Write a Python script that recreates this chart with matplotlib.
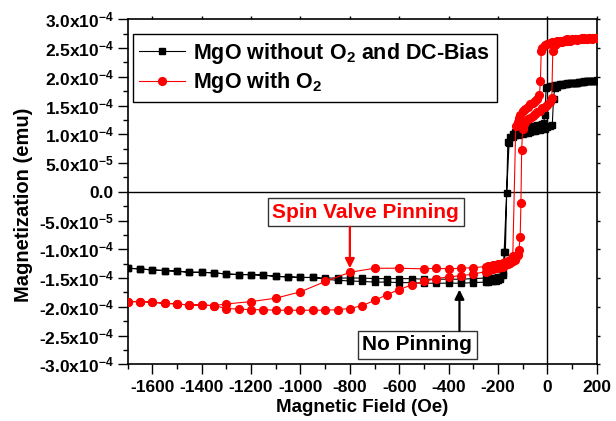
import numpy as np
import matplotlib
matplotlib.use("Agg")
import matplotlib.pyplot as plt
from matplotlib.ticker import MultipleLocator, FixedLocator, FixedFormatter

plt.rcParams['font.family'] = ['Liberation Sans', 'DejaVu Sans']
plt.rcParams['font.weight'] = 'bold'
plt.rcParams['mathtext.fontset'] = 'custom'
plt.rcParams['mathtext.rm'] = 'Liberation Sans:bold'
plt.rcParams['mathtext.it'] = 'Liberation Sans:bold'
plt.rcParams['mathtext.bf'] = 'Liberation Sans:bold'
plt.rcParams['axes.unicode_minus'] = False

# magnetization values in units of 1e-4 emu

# shared far-field part (-1700 .. -950)
black_far_h = [-1700, -1650, -1600, -1550, -1500, -1450, -1400, -1350, -1300,
               -1250, -1200, -1150, -1100, -1050, -1000, -950]
black_far_m = [-1.33, -1.34, -1.36, -1.37, -1.38, -1.40, -1.40, -1.41, -1.43,
               -1.44, -1.44, -1.45, -1.47, -1.48, -1.49, -1.49]

# black: descending branch (+200 -> -900)
black_down_h = [200, 190, 180, 170, 160, 150, 140, 130, 120, 110, 100, 90, 80, 70,
                60, 50, 40, 30, 20, 10, 0, -5, -10, -15, -20, -30, -40, -50, -60,
                -70, -80, -90, -100, -110, -120, -130, -140, -150, -160, -170,
                -180, -190, -200, -210, -220, -230, -240, -250, -300, -350, -400,
                -450, -500, -550, -600, -650, -700, -750, -800, -850, -900]
black_down_m = [1.94, 1.93, 1.93, 1.92, 1.92, 1.92, 1.91, 1.91, 1.90, 1.90, 1.90,
                1.89, 1.89, 1.88, 1.87, 1.87, 1.86, 1.85, 1.84, 1.84, 1.83, 1.81,
                1.34, 1.20, 1.18, 1.17, 1.16, 1.15, 1.14, 1.13, 1.12, 1.11, 1.10,
                1.08, 1.06, 1.04, 1.00, 0.96, 0.87, -1.04, -1.42, -1.48, -1.49,
                -1.50, -1.50, -1.50, -1.50, -1.50, -1.51, -1.52, -1.52, -1.52,
                -1.52, -1.51, -1.51, -1.51, -1.51, -1.50, -1.50, -1.50, -1.50]

# black: ascending branch (-900 -> +200)
black_up_h = [-900, -850, -800, -750, -700, -650, -600, -550, -500, -450, -400,
              -350, -300, -250, -240, -230, -220, -210, -200, -190, -180, -175,
              -165, -155, -140, -130, -120, -110, -100, -90, -80, -70, -60, -50,
              -40, -30, -20, -10, 0, 10, 20, 25, 30, 40, 50, 60, 70, 80, 90, 100,
              110, 120, 130, 140, 150, 160, 170, 180, 190, 200]
black_up_m = [-1.52, -1.54, -1.55, -1.56, -1.57, -1.57, -1.58, -1.58, -1.59,
              -1.59, -1.59, -1.59, -1.58, -1.57, -1.57, -1.56, -1.56, -1.55,
              -1.54, -1.52, -1.45, -1.05, -0.02, 0.84, 0.96, 0.98, 0.99, 1.00,
              1.01, 1.02, 1.03, 1.04, 1.05, 1.06, 1.07, 1.08, 1.09, 1.10, 1.12,
              1.14, 1.17, 1.62, 1.80, 1.83, 1.85, 1.86, 1.87, 1.88, 1.89, 1.89,
              1.90, 1.90, 1.91, 1.91, 1.91, 1.92, 1.92, 1.92, 1.93, 1.93]

# red: shared far-field part
red_far_h = [-1350, -1400, -1450, -1500, -1550, -1600, -1650, -1700]
red_far_m = [-1.98, -1.97, -1.97, -1.95, -1.94, -1.92, -1.91, -1.91]

# red: descending branch (+200 -> -1300)
red_down_h = [200, 190, 180, 170, 160, 150, 140, 130, 120, 110, 100, 90, 80, 70,
              60, 50, 40, 30, 20, 10, 0, -10, -20, -25, -28, -32, -40, -50, -60,
              -70, -80, -90, -100, -110, -115, -120, -128, -140, -150, -160, -170,
              -180, -190, -200, -210, -220, -230, -240, -250, -300, -350, -400,
              -450, -500, -600, -700, -800, -900, -1000, -1100, -1200, -1300]
red_down_m = [2.68, 2.68, 2.67, 2.68, 2.66, 2.67, 2.67, 2.66, 2.66, 2.65, 2.66,
              2.64, 2.65, 2.64, 2.63, 2.63, 2.62, 2.61, 2.60, 2.59, 2.57, 2.55,
              2.50, 2.44, 1.93, 1.68, 1.62, 1.58, 1.55, 1.52, 1.48, 1.44, 1.40,
              1.34, 1.28, 1.22, 1.15, -1.12, -1.18, -1.20, -1.22, -1.23, -1.25,
              -1.26, -1.27, -1.28, -1.29, -1.29, -1.30, -1.32, -1.33, -1.34,
              -1.33, -1.34, -1.33, -1.33, -1.40, -1.56, -1.74, -1.85, -1.91, -1.95]

# red: ascending branch (-1300 -> +200)
red_up_h = [-1300, -1250, -1200, -1150, -1100, -1050, -1000, -950, -900, -850,
            -800, -750, -700, -650, -600, -550, -500, -450, -400, -350, -300,
            -250, -240, -230, -220, -210, -200, -190, -180, -170, -160, -150,
            -140, -130, -125, -120, -115, -110, -107, -104, -100, -95, -90, -80,
            -70, -60, -50, -40, -30, -20, -10, 0, 10, 18, 22, 30, 40, 50, 60, 70,
            80, 90, 100, 110, 120, 130, 140, 150, 160, 170, 180, 190, 200]
red_up_m = [-2.03, -2.04, -2.05, -2.05, -2.06, -2.06, -2.06, -2.06, -2.06, -2.05,
            -2.03, -1.98, -1.89, -1.79, -1.70, -1.62, -1.56, -1.51, -1.48, -1.46,
            -1.43, -1.39, -1.37, -1.35, -1.34, -1.33, -1.32, -1.31, -1.30, -1.28,
            -1.26, -1.24, -1.21, -1.18, -1.14, -1.10, -1.01, -0.78, -0.19, 0.73,
            1.10, 1.18, 1.22, 1.26, 1.29, 1.32, 1.35, 1.38, 1.41, 1.45, 1.48,
            1.51, 1.56, 1.63, 2.44, 2.56, 2.58, 2.60, 2.61, 2.62, 2.63, 2.63,
            2.64, 2.65, 2.64, 2.65, 2.66, 2.65, 2.66, 2.67, 2.66, 2.67, 2.68]

ytick_values = [-3.0, -2.5, -2.0, -1.5, -1.0, -0.5, 0.0, 0.5, 1.0, 1.5, 2.0, 2.5, 3.0]
ytick_labels = ['-3.0x$10^{-4}$', '-2.5x$10^{-4}$', '-2.0x$10^{-4}$', '-1.5x$10^{-4}$',
                '-1.0x$10^{-4}$', '-5.0x$10^{-5}$', '0.0', '5.0x$10^{-5}$',
                '1.0x$10^{-4}$', '1.5x$10^{-4}$', '2.0x$10^{-4}$', '2.5x$10^{-4}$',
                '3.0x$10^{-4}$']

# full loops: down branch then far field then up branch
black_h = np.array(black_down_h + black_far_h[::-1] + black_far_h + black_up_h)
black_m = np.array(black_down_m + black_far_m[::-1] + black_far_m + black_up_m) * 1e-4
red_h = np.array(red_down_h + red_far_h + red_far_h[::-1] + red_up_h)
red_m = np.array(red_down_m + red_far_m + red_far_m[::-1] + red_up_m) * 1e-4

fig = plt.figure(figsize=(6.16, 4.21), dpi=100)
ax = fig.add_axes([0.2073, 0.1347, 0.7614, 0.8195])

ax.axhline(0, color='black', lw=1.0, zorder=1)
ax.axvline(0, color='black', lw=1.0, zorder=1)

ax.plot(black_h, black_m, color='black', lw=0.8, marker='s', ms=5,
        label='MgO without O$_2$ and DC-Bias', zorder=3)
ax.plot(red_h, red_m, color='red', lw=0.8, marker='o', ms=5.6,
        label='MgO with O$_2$', zorder=4)

ax.set_xlim(-1700, 200)
ax.set_ylim(-3e-4, 3e-4)

ax.xaxis.set_major_locator(MultipleLocator(200))
ax.xaxis.set_minor_locator(MultipleLocator(100))
ax.yaxis.set_major_locator(FixedLocator([v * 1e-4 for v in ytick_values]))
ax.yaxis.set_major_formatter(FixedFormatter(ytick_labels))
ax.yaxis.set_minor_locator(MultipleLocator(2.5e-5))

ax.tick_params(which='major', direction='out', length=7, width=1.0, labelsize=12.5, top=True, right=True)
ax.tick_params(axis='x', which='major', pad=4)
ax.tick_params(axis='y', which='major', pad=3)
ax.tick_params(which='minor', direction='out', length=3.5, width=1.0)
ax.tick_params(axis='x', which='both', top=True)
ax.tick_params(axis='y', which='both', right=True)
for t in ax.xaxis.get_major_ticks() + ax.yaxis.get_major_ticks():
    t.tick2line.set_markersize(2)
for t in ax.xaxis.get_minor_ticks() + ax.yaxis.get_minor_ticks():
    t.tick2line.set_markersize(0)
for s in ax.spines.values():
    s.set_linewidth(1.2)

ax.set_xlabel('Magnetic Field (Oe)', fontsize=13.5, fontweight='bold')
ax.set_ylabel('Magnetization (emu)', fontsize=14.5, fontweight='bold')
ax.xaxis.set_label_coords(0.5, -0.1)
ax.yaxis.set_label_coords(-0.202, 0.462)

leg = ax.legend(loc='upper left', bbox_to_anchor=(0.0113, 0.957), borderaxespad=0,
                fontsize=15.5, frameon=True, fancybox=False, framealpha=1,
                edgecolor='black', handlelength=2.1, handletextpad=0.4,
                borderpad=0.3, labelspacing=0.22)
leg.get_frame().set_linewidth(1.0)

box = dict(boxstyle='square,pad=0.22', fc='white', ec='#333333', lw=1.0)
ax.text(-736, -0.355e-4, 'Spin Valve Pinning', color='red', fontsize=15,
        fontweight='bold', ha='center', va='center', bbox=box, zorder=5)
ax.annotate('', xy=(-800, -1.33e-4), xytext=(-800, -0.61e-4),
            arrowprops=dict(arrowstyle='-|>', color='red', lw=1.6, mutation_scale=14,
                            shrinkA=0, shrinkB=0), zorder=5)
ax.text(-527, -2.66e-4, 'No Pinning', color='black', fontsize=15,
        fontweight='bold', ha='center', va='center', bbox=box, zorder=5)
ax.annotate('', xy=(-356, -1.70e-4), xytext=(-356, -2.42e-4),
            arrowprops=dict(arrowstyle='-|>', color='black', lw=1.6, mutation_scale=14,
                            shrinkA=0, shrinkB=0), zorder=5)

fig.savefig('out.png', dpi=100)
